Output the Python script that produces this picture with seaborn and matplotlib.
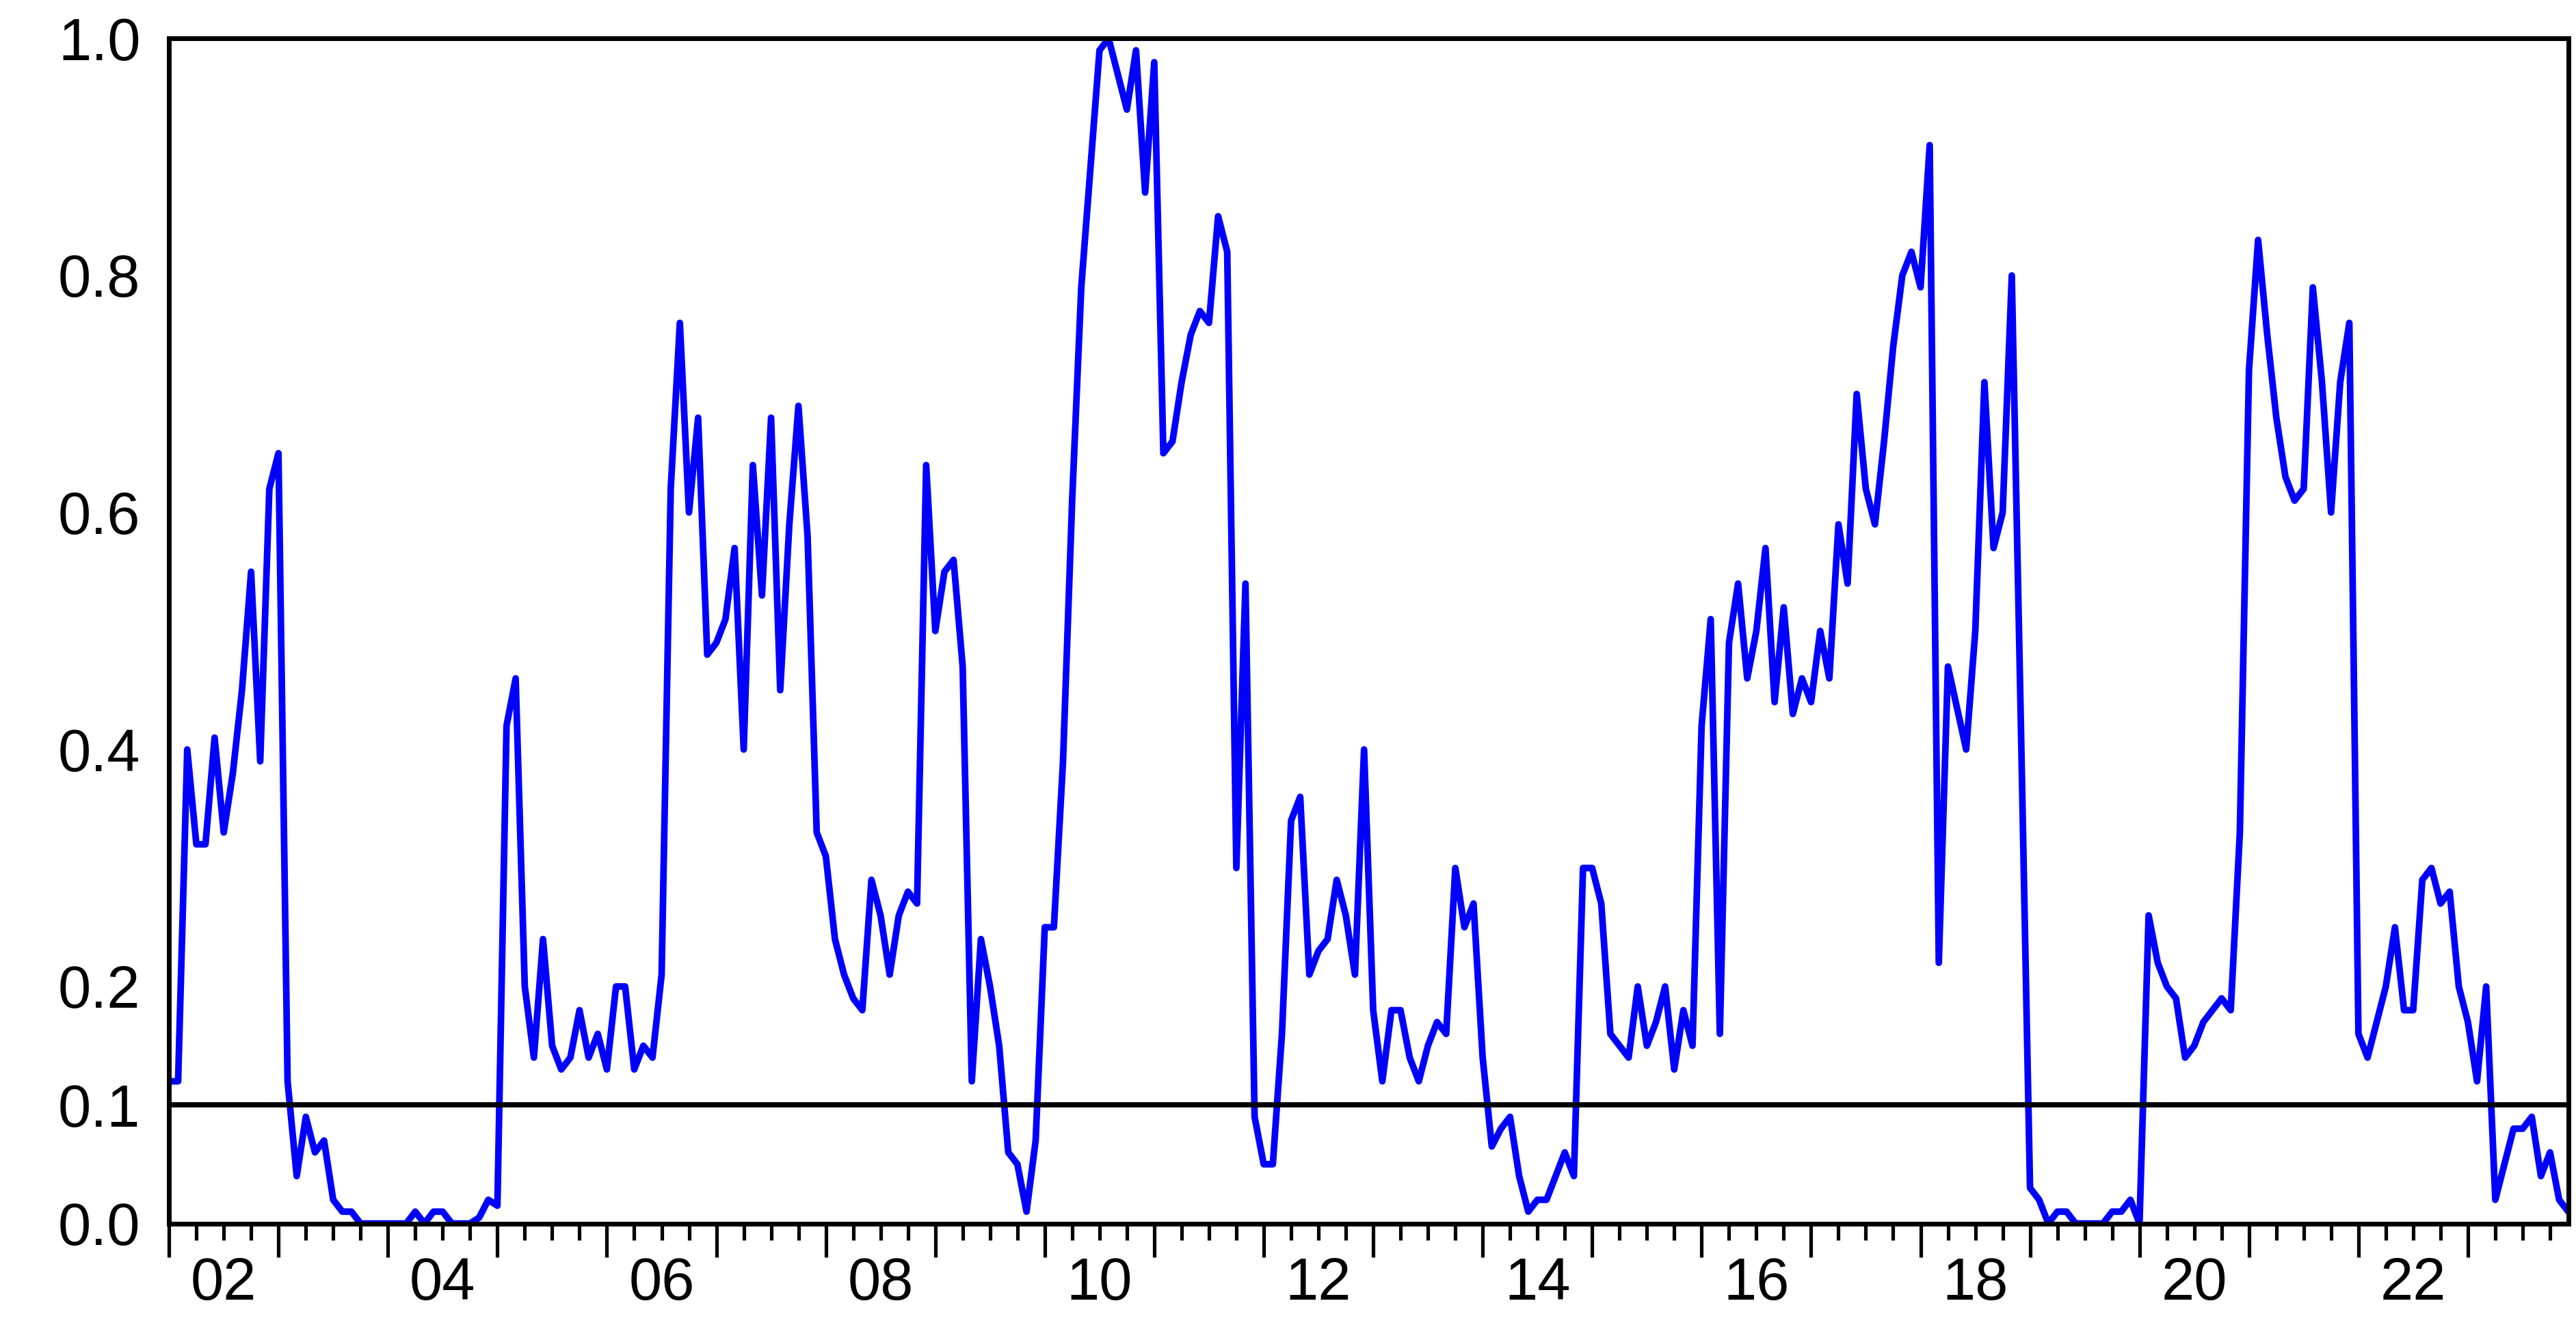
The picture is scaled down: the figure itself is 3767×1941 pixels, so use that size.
import numpy as np
import pandas as pd
import matplotlib
matplotlib.use("Agg")
import matplotlib.pyplot as plt
import seaborn as sns

# monthly values, starting January 2002
values = [
    0.12, 0.12, 0.40, 0.32, 0.32, 0.41, 0.33, 0.38, 0.45, 0.55, 0.39, 0.62,
    0.65, 0.12, 0.04, 0.09, 0.06, 0.07, 0.02, 0.01, 0.01, 0.00, 0.00, 0.00,
    0.00, 0.00, 0.00, 0.01, 0.00, 0.01, 0.01, 0.00, 0.00, 0.00, 0.005, 0.02,
    0.015, 0.42, 0.46, 0.20, 0.14, 0.24, 0.15, 0.13, 0.14, 0.18, 0.14, 0.16,
    0.13, 0.20, 0.20, 0.13, 0.15, 0.14, 0.21, 0.62, 0.76, 0.60, 0.68, 0.48,
    0.49, 0.51, 0.57, 0.40, 0.64, 0.53, 0.68, 0.45, 0.59, 0.69, 0.58, 0.33,
    0.31, 0.24, 0.21, 0.19, 0.18, 0.29, 0.26, 0.21, 0.26, 0.28, 0.27, 0.64,
    0.50, 0.55, 0.56, 0.47, 0.12, 0.24, 0.20, 0.15, 0.06, 0.05, 0.01, 0.07,
    0.25, 0.25, 0.39, 0.61, 0.79, 0.89, 0.99, 1.00, 0.97, 0.94, 0.99, 0.87,
    0.98, 0.65, 0.66, 0.71, 0.75, 0.77, 0.76, 0.85, 0.82, 0.30, 0.54,
    0.09, 0.05, 0.05, 0.16, 0.34, 0.36, 0.21, 0.23, 0.24, 0.29, 0.26, 0.21,
    0.40, 0.18, 0.12, 0.18, 0.18, 0.14, 0.12, 0.15, 0.17, 0.16, 0.30, 0.25,
    0.27, 0.14, 0.065, 0.08, 0.09, 0.04, 0.01, 0.02, 0.02, 0.04, 0.06, 0.04,
    0.30, 0.30, 0.27, 0.16, 0.15, 0.14, 0.20, 0.15, 0.17, 0.20, 0.13, 0.18,
    0.15, 0.42, 0.51, 0.16, 0.49, 0.54, 0.46, 0.50, 0.57, 0.44, 0.52, 0.43,
    0.46, 0.44, 0.50, 0.46, 0.59, 0.54, 0.70, 0.62, 0.59, 0.66, 0.74, 0.80,
    0.82, 0.79, 0.91, 0.22, 0.47, 0.435, 0.40, 0.50, 0.71, 0.57, 0.60, 0.80,
    0.42, 0.03, 0.02, 0.00, 0.01, 0.01, 0.00, 0.00, 0.00, 0.00, 0.01, 0.01,
    0.02, 0.00, 0.26, 0.22, 0.20, 0.19, 0.14, 0.15, 0.17, 0.18, 0.19, 0.18,
    0.33, 0.72, 0.83, 0.75, 0.68, 0.63, 0.61, 0.62, 0.79, 0.71, 0.60, 0.71,
    0.76, 0.16, 0.14, 0.17, 0.20, 0.25, 0.18, 0.18, 0.29, 0.30, 0.27, 0.28,
    0.20, 0.17, 0.12, 0.20, 0.02, 0.05, 0.08, 0.08, 0.09, 0.04, 0.06, 0.02,
    0.01,
]
threshold = 0.1
start_year = 2002
end_year = 2024
label_years = list(range(2002, 2024, 2))

df = pd.DataFrame({"t": start_year + np.arange(len(values)) / 12.0, "v": values})

sns.set_style("white")
plt.rcParams["font.family"] = ["Liberation Sans Narrow", "Liberation Sans", "DejaVu Sans"]

fig = plt.figure(figsize=(3767 / 250, 1941 / 250), dpi=250)
ax = fig.add_axes([0.0656, 0.078, 0.9314, 0.893])

sns.lineplot(data=df, x="t", y="v", color="#0000ff", linewidth=2.8, ax=ax)
ax.axhline(threshold, color="black", linewidth=2.2)

ax.set_xlim(start_year, df["t"].iloc[-1])
ax.set_ylim(0, 1.0)
ax.set_xlabel("")
ax.set_ylabel("")

ax.set_yticks([0.0, 0.1, 0.2, 0.4, 0.6, 0.8, 1.0])
ax.set_yticklabels(["0.0", "0.1", "0.2", "0.4", "0.6", "0.8", "1.0"],
                   fontsize=25, color="black")
ax.tick_params(axis="y", length=0, pad=12)

# year ticks long, quarter ticks short, labels centred in even years
ax.set_xticks(np.arange(start_year, end_year))
ax.set_xticks(np.arange(start_year, end_year, 0.25), minor=True)
ax.set_xticklabels([])
ax.tick_params(axis="x", which="both", bottom=True, direction="out",
               width=1.5, color="black")
ax.tick_params(axis="x", which="major", length=14)
ax.tick_params(axis="x", which="minor", length=7)
for y in label_years:
    ax.text(y + 0.5, -0.028, f"{y % 100:02d}", ha="center", va="top",
            fontsize=25, color="black", transform=ax.get_xaxis_transform())

for s in ax.spines.values():
    s.set_color("black")
    s.set_linewidth(2.0)

fig.savefig("out.png", dpi=250)
